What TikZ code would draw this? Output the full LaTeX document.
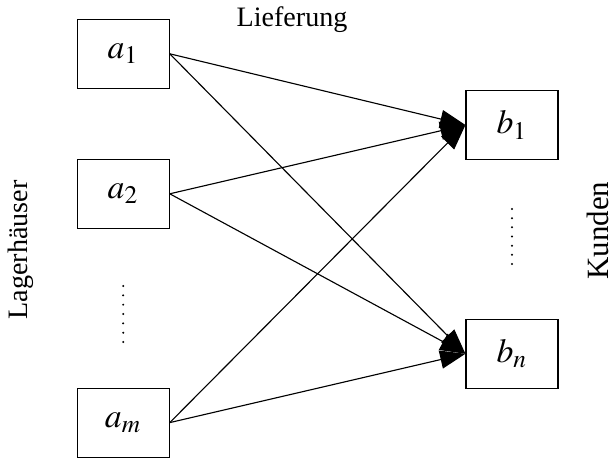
\documentclass[tikz,border=0pt]{standalone}
\usepackage{mathptmx}
\usepackage{fontspec}
\setmainfont{Liberation Serif}
\usetikzlibrary{arrows.meta}

\begin{document}
\begin{tikzpicture}[box/.style={draw, minimum width=1.15cm, minimum height=0.8625cm, inner sep=0pt, font=\large},
  lief/.style={-{Triangle[length=9pt,width=6.5pt]}}]
\useasboundingbox (0,0) rectangle (7.675,5.7125);
\node[box] (a1) at (1.54,5.04) {$a_1$}; % Lager
\node[box] (a2) at (1.54,3.29) {$a_2$};
\node[box] (am) at (1.54,0.43) {$a_m$};
\node[box] (b1) at (6.4,4.15) {$b_1$}; % Kunden
\node[box] (bn) at (6.4,1.29) {$b_n$};
\foreach \i in {0,...,6} \fill (1.54,2.1375-\i*0.1167) circle (0.014);
\foreach \i in {0,...,6} \fill (6.4,3.1-\i*0.1146) circle (0.014);
\draw[lief] (a1.east) -- (b1.west);
\draw[lief] (a1.east) -- (bn.west);
\draw[lief] (a2.east) -- (b1.west);
\draw[lief] (a2.east) -- (bn.west);
\draw[lief] (am.east) -- (b1.west);
\draw[lief] (am.east) -- (bn.west);
\node[anchor=base] (lief) at (3.65,5.375) {Lieferung};
\node[rotate=90] (lager) at (0.26,2.59) {Lagerhäuser};
\node[rotate=90, font=\fontsize{11}{13}\selectfont] (kund) at (7.48,2.83) {Kunden};
\end{tikzpicture}
\end{document}
